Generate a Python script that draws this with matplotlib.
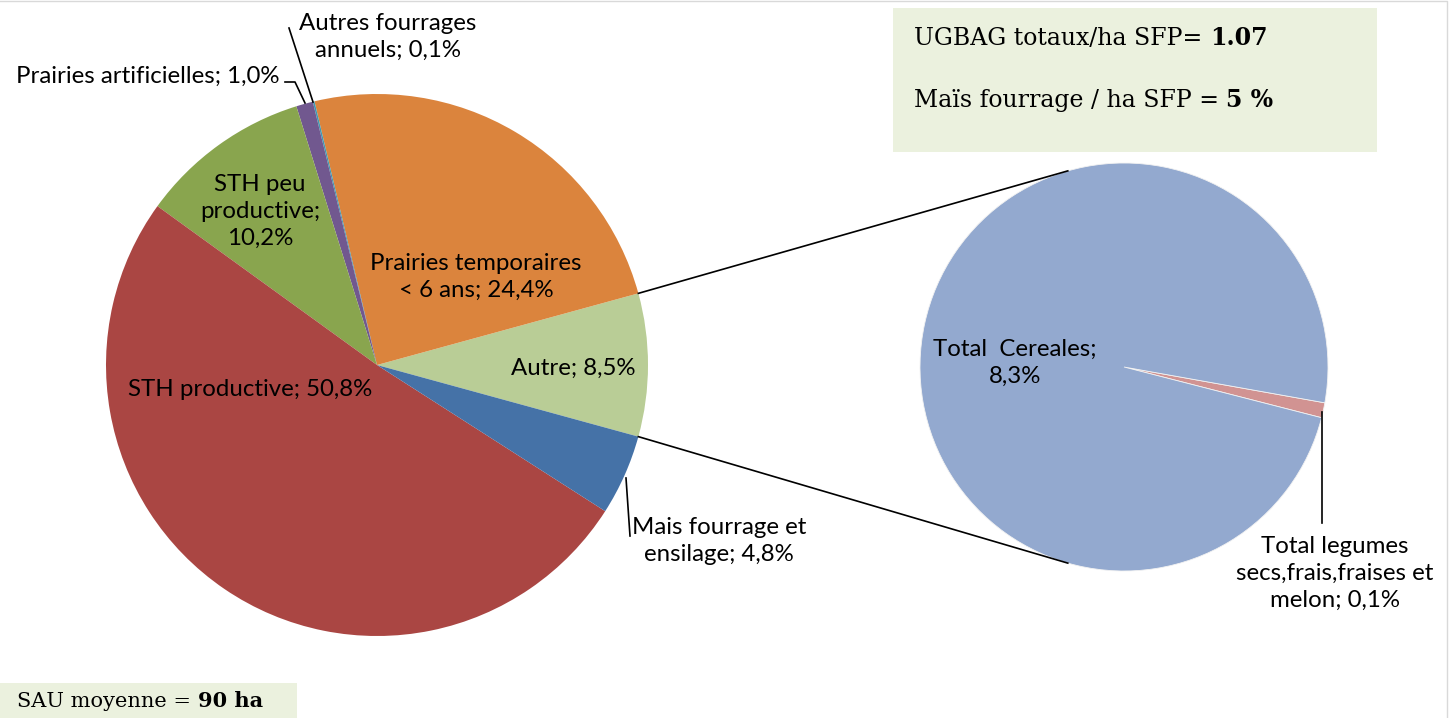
import numpy as np
import matplotlib
matplotlib.use('Agg')
import matplotlib.pyplot as plt

# main pie, counter-clockwise from the "Autre" slice (centred on 3 o'clock)
MAIN_LABELS = ['Autre', 'Prairies temporaires < 6 ans', 'Autres fourrages annuels',
               'Prairies artificielles', 'STH peu productive', 'STH productive',
               'Mais fourrage et ensilage']
MAIN_VALUES = [8.5, 24.4, 0.1, 1.0, 10.2, 50.8, 4.8]
MAIN_COLORS = ['#B9CD96', '#DB843D', '#4198AF', '#71588F', '#89A54E', '#AA4643', '#4572A7']

# secondary pie (breakdown of "Autre")
SUB_LABELS = ['Total legumes secs,frais,fraises et melon', 'Total Cereales']
SUB_VALUES = [0.1, 8.3]
SUB_COLORS = ['#D19392', '#93A9CF']

W, H = 1452, 718
LABEL_FONT = ['Lato', 'DejaVu Sans']
BOX_FONT = ['DejaVu Serif']
BOX_BG = '#EBF1DE'


def Y(y):  # image row -> data y
  return H - y


fig = plt.figure(figsize=(W / 100, H / 100), dpi=100)
ax = fig.add_axes([0, 0, 1, 1])

c1, r1 = (377, Y(365)), 271
c2, r2 = (1124, Y(367)), 204
start = -MAIN_VALUES[0] / sum(MAIN_VALUES) * 360 / 2
ax.pie(MAIN_VALUES, colors=MAIN_COLORS, center=c1, radius=r1, startangle=start,
       counterclock=True, wedgeprops=dict(linewidth=0), frame=True)
ax.pie(SUB_VALUES, colors=SUB_COLORS, center=c2, radius=r2, startangle=-14.4,
       counterclock=True, wedgeprops=dict(linewidth=0.6, edgecolor='#f2f2f2'),
       frame=True)
ax.set_xlim(0, W); ax.set_ylim(0, H); ax.axis('off')

# connectors between the two pies
for s in (1, -1):
  a1, a2 = np.radians(s * abs(start)), np.radians(s * 106)
  ax.plot([c1[0] + r1 * np.cos(a1), c2[0] + r2 * np.cos(a2)],
          [c1[1] + r1 * np.sin(a1), c2[1] + r2 * np.sin(a2)], color='black', lw=1.2)

kw = dict(fontsize=17.3, family=LABEL_FONT, color='black', linespacing=1.35)
ax.text(388, Y(37), 'Autres fourrages\nannuels; 0,1%', ha='center', va='center', **kw)
ax.plot([313, 289], [Y(102), Y(28)], color='black', lw=1.2)
ax.text(279, Y(76), 'Prairies artificielles; 1,0%', ha='right', va='center', **kw)
ax.plot([285, 295, 305], [Y(82), Y(82), Y(103)], color='black', lw=1.2)
ax.text(260, Y(211), 'STH peu\nproductive;\n10,2%', ha='center', va='center', **kw)
ax.text(476, Y(277), 'Prairies temporaires\n< 6 ans; 24,4%', ha='center', va='center', **kw)
ax.text(573, Y(368), 'Autre; 8,5%', ha='center', va='center', **kw)
ax.text(250, Y(389), 'STH productive; 50,8%', ha='center', va='center', **kw)
ax.text(719, Y(541), 'Mais fourrage et\nensilage; 4,8%', ha='center', va='center', **kw)
ax.plot([626, 630], [Y(478), Y(536)], color='black', lw=1.2)
ax.text(1015, Y(363), 'Total  Cereales;\n8,3%', ha='center', va='center', **kw)
ax.text(1335, Y(573), 'Total legumes\nsecs,frais,fraises et\nmelon; 0,1%',
        ha='center', va='center', **kw)
ax.plot([1322, 1322], [Y(412), Y(523)], color='black', lw=1.2)

# info boxes
ax.add_patch(plt.Rectangle((893, Y(152)), 484, 144, color=BOX_BG, lw=0))
ax.add_patch(plt.Rectangle((0, Y(718)), 297, 35, color=BOX_BG, lw=0))


def boxed(x, y, plain, bold, size=17):
  t = ax.text(x, Y(y), plain, fontsize=size, family=BOX_FONT, va='baseline', ha='left')
  ax.annotate(bold, xy=(1, 0), xycoords=t, va='bottom', ha='left',
              fontsize=size, family=BOX_FONT, fontweight='bold')


boxed(914, 45, 'UGBAG totaux/ha SFP= ', '1.07')
boxed(914, 107, 'Maïs fourrage / ha SFP = ', '5 %')
boxed(17, 707, 'SAU moyenne = ', '90 ha', size=15)

# light chart-area border
ax.plot([0, 1447, 1447], [Y(1), Y(1), Y(718)], color='#d9d9d9', lw=1)

fig.savefig('out.png', dpi=100)
